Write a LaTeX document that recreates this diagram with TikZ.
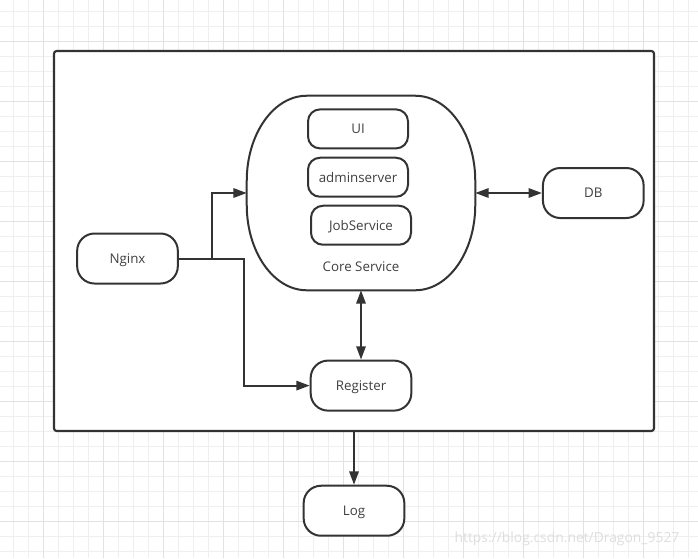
\documentclass[tikz,border=0pt]{standalone}
\usepackage{fontspec}
\setmainfont{Open Sans}
\usepackage{tikz}
\usetikzlibrary{arrows.meta, positioning}
\definecolor{linegray}{HTML}{333333}
\definecolor{textgray}{HTML}{404040}
\definecolor{gridlight}{HTML}{EFEFEF}
\definecolor{griddark}{HTML}{E2E2E2}
\tikzstyle{terminal} = [
    rectangle, 
    rounded corners=13pt, 
    minimum width=75.5pt, 
    minimum height=37.5pt,
    text centered, 
    text height=7.2pt,
    text depth=0pt,
    draw=linegray, 
    line width=1.5pt,
    fill=white,
    text=textgray,
    font=\fontsize{10}{12}\selectfont
]
\tikzstyle{module} = [
    rectangle, 
    rounded corners=9pt, 
    minimum width=75pt, 
    minimum height=29.25pt,
    text centered, 
    text height=7.2pt,
    text depth=0pt,
    draw=linegray, 
    line width=1.5pt,
    fill=white,
    text=textgray,
    font=\fontsize{10}{12}\selectfont
]
\tikzstyle{frame} = [
    rectangle, 
    rounded corners=2pt, 
    minimum width=450pt, 
    minimum height=285pt,
    draw=linegray, 
    line width=1.6pt,
    fill=white
]
\tikzstyle{core} = [
    rectangle, 
    minimum width=171pt, 
    minimum height=145.5pt
]
\tikzstyle{arrow} = [line width=1.5pt, draw=linegray, -{Triangle[length=10pt,width=7pt]}]
\tikzstyle{biarrow} = [line width=1.5pt, draw=linegray, {Triangle[length=10pt,width=7pt]}-{Triangle[length=10pt,width=7pt]}]

\begin{document}
\begin{tikzpicture}[x=0.75pt, y=-0.75pt]

% Background grid
\useasboundingbox (0,0) rectangle (698,558);
\fill [white] (0,0) rectangle (698,558);
\foreach \i in {0,...,46}
    \draw [gridlight, line width=0.75pt] (13.33+15*\i,0) -- (13.33+15*\i,558);
\foreach \i in {0,...,36}
    \draw [gridlight, line width=0.75pt] (0,11.67+15*\i) -- (698,11.67+15*\i);
\foreach \i in {0,...,11}
    \draw [griddark, line width=0.75pt] (43.33+60*\i,0) -- (43.33+60*\i,558);
\foreach \i in {0,...,9}
    \draw [griddark, line width=0.75pt] (0,41.67+60*\i) -- (698,41.67+60*\i);

% Nodes
\node (frame) [frame] at (354,241) {};
\node (core) [core] at (361,193) {};
\draw [linegray, line width=1.5pt, fill=white]
    ([xshift=45pt]core.north west) -- ([xshift=-45pt]core.north east)
    arc[start angle=90, end angle=0, x radius=45pt, y radius=64pt]
    -- ([yshift=64pt]core.south east)
    arc[start angle=0, end angle=-90, x radius=45pt, y radius=64pt]
    -- ([xshift=45pt]core.south west)
    arc[start angle=270, end angle=180, x radius=45pt, y radius=64pt]
    -- ([yshift=-64pt]core.north west)
    arc[start angle=180, end angle=90, x radius=45pt, y radius=64pt]
    -- cycle;
\node (ui) [module, below=9.5pt of core.north, xshift=-2.25pt] {UI};
\node (admin) [module, below=5.5pt of ui] {adminserver};
\node (job) [module, below=5.25pt of admin, xshift=2.25pt] {JobService};
\node (corelabel) [text=textgray, font=\fontsize{10}{12}\selectfont] at ([yshift=18pt]core.south) {Core Service};
\node (db) [terminal, right=50pt of core] {DB};
\node (nginx) [terminal] at (127.5,258.5) {Nginx};
\node (register) [terminal, below=52pt of core] {Register};
\node (log) [terminal, below=39.5pt of frame] {Log};
\node (mark) [text=black!13, font=\fontsize{10.4}{12}\selectfont] at (567,539) {https://blog.csdn.net/Dragon\_9527};

% Arrows
\coordinate (split1) at (212,258.5);
\coordinate (split2) at (244,258.5);
\draw [arrow] (nginx.east) -- (split1) |- (core.west);
\draw [arrow] (nginx.east) -- (split2) |- (register.west);
\draw [biarrow] (core.east) -- (db.west);
\draw [biarrow] (core.south) -- (register.north);
\draw [arrow] (frame.south) -- (log.north);

\end{tikzpicture}
\end{document}
